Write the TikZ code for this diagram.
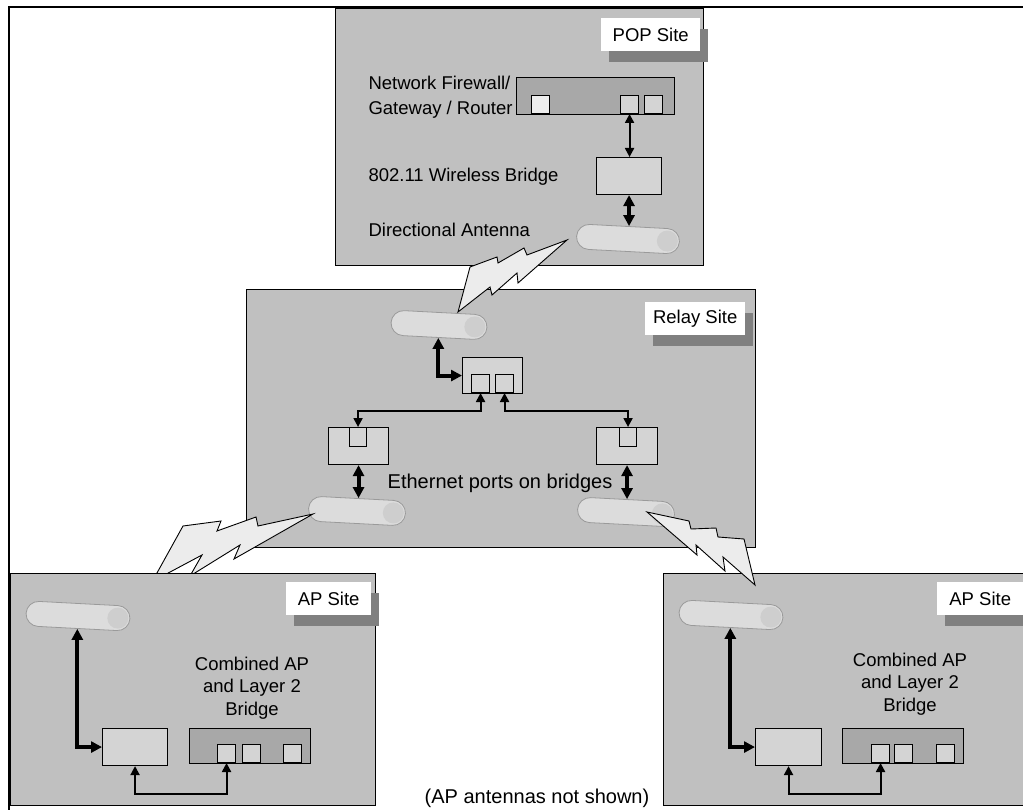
\documentclass[tikz,border=0pt]{standalone}
\usepackage{fontspec}
\setmainfont{Liberation Sans}
\usetikzlibrary{arrows.meta, positioning, shadows, calc}

\definecolor{sitegray}{HTML}{C0C0C0}
\definecolor{boxgray}{HTML}{D4D4D4}
\definecolor{fwgray}{HTML}{A8A8A8}
\definecolor{portgray}{HTML}{D4D4D4}
\definecolor{portwhite}{HTML}{EDEDED}
\definecolor{shadowgray}{HTML}{808080}
\definecolor{antfill}{HTML}{DCDCDC}
\definecolor{antcap}{HTML}{CECECE}
\definecolor{antedge}{HTML}{9A9A9A}
\definecolor{boltgray}{HTML}{ECECEC}

\tikzset{
  site/.style={draw=black, line width=1.2pt, fill=sitegray, anchor=north west, inner sep=0pt},
  tag/.style={fill=white, inner sep=0pt, minimum height=33pt, anchor=north west,
    drop shadow={shadow xshift=8pt, shadow yshift=-11pt, fill=shadowgray, opacity=1}},
  box/.style={draw=black, line width=1.1pt, fill=boxgray, inner sep=0pt, anchor=north west},
  port/.style={draw=black, line width=1.1pt, fill=portgray, inner sep=0pt, minimum size=18pt, anchor=south west},
  antenna/.style={draw=antedge, fill=antfill, line width=0.8pt, minimum height=25pt,
    rounded corners=12.5pt, inner sep=0pt, rotate=-3},
  bolt/.style={draw=black, fill=boltgray, line width=0.9pt},
  arr/.style={{Triangle[length=9pt,width=9pt]}-{Triangle[length=9pt,width=9pt]}, line width=2pt},
  bigarr/.style={{Triangle[length=11pt,width=11pt]}-{Triangle[length=11pt,width=11pt]}, line width=4pt}
}

\begin{document}
\begin{tikzpicture}[x=1pt, y=-1pt, font=\fontsize{18.5}{25}\selectfont]
  \useasboundingbox (0,0) rectangle (1023,810);
  \clip (0,0) rectangle (1023,810);
  \fill[white] (0,0) rectangle (1023,810);

  % outer frame
  \draw[line width=2.5pt] (9,815) -- (9,7) -- (1030,7);

  % POP site
  \node[site, minimum width=368pt, minimum height=257pt] (pop) at (335,8) {};
  \node[tag, minimum width=99pt] (poptag) at (601,18) {POP Site};
  \node[box, fill=fwgray, minimum width=158pt, minimum height=37pt] (fw) at (516,77) {};
  \node[port, fill=portwhite] (fwp1) at (531,114) {};
  \node[port] (fwp2) at (620,114) {};
  \node[port] (fwp3) at (644,114) {};
  \node[box, minimum width=65pt, minimum height=37pt] (popbr) at (596,157) {};
  \node[antenna, minimum width=103pt] (popant) at (628,239) {};
  \fill[antcap] ($(popant.east)!12.5pt!(popant.west)$) circle (10.5pt);
  \node[anchor=west, align=left] (fwlbl) at (365,97) {Network Firewall/\\Gateway / Router};
  \node[anchor=west] (brlbl) at (365,177) {802.11 Wireless Bridge};
  \node[anchor=west] (antlbl) at (365,230) {Directional Antenna};
  \draw[arr] (fwp2.south) -- (fwp2.south |- popbr.north);
  \draw[bigarr] (popbr.south) -- (popbr.south |- popant.north);

  % Relay site
  \node[site, minimum width=509pt, minimum height=258pt] (relay) at (246,289) {};
  \node[tag, minimum width=100pt] (relaytag) at (645,302) {Relay Site};
  \node[antenna, minimum width=96pt] (relant) at (439,325) {};
  \node[box, minimum width=60pt, minimum height=36pt] (sw) at (462,357) {};
  \node[port] (swp1) at (471,393) {};
  \node[port] (swp2) at (495,393) {};
  \node[box, minimum width=60pt, minimum height=37pt] (lb) at (328,427) {};
  \node[port, anchor=north west, minimum width=17pt, minimum height=19pt] (lbp) at (349,427) {};
  \node[box, minimum width=61pt, minimum height=37pt] (rb) at (596,427) {};
  \node[port, anchor=north west, minimum width=17pt, minimum height=19pt] (rbp) at (619,427) {};
  \node[antenna, minimum width=97pt] (lant) at (357,511) {};
  \node[antenna, minimum width=97pt] (rant) at (626,512) {};
  \foreach \a in {relant, lant, rant}
    \fill[antcap] ($(\a.east)!12.5pt!(\a.west)$) circle (10.5pt);
  \node[font=\fontsize{20}{24}\selectfont] (ethlbl) at (500,483) {Ethernet ports on bridges};
  \draw[bigarr] (relant.south) |- (sw.west);
  \draw[arr] (swp1.south) -- ++(0,18) -| (lbp.north);
  \draw[arr] (swp2.south) -- ++(0,18) -| (rbp.north);
  \draw[bigarr] (lb.south) -- (lb.south |- lant.north);
  \draw[bigarr] (rb.south) -- (rb.south |- rant.north);

  % radio links
  \draw[bolt] (567,240) -- (527,255) -- (524,248) -- (498,263) -- (497,257) -- (470,267)
    -- (458,312) -- (490,287) -- (492,295) -- (517,273) -- (518,283) -- cycle;
  \draw[bolt] (313,514) -- (258,526) -- (256,517) -- (217,531) -- (221,521) -- (183,526)
    -- (152,582) -- (157,579) -- (202,555) -- (190,576) -- (240,545) -- (234,559) -- cycle;

  % AP site, left
  \node[site, minimum width=365pt, minimum height=232pt] (apl) at (10,573) {};
  \node[tag, minimum width=85pt] (apltag) at (286,582) {AP Site};
  \node[antenna, minimum width=104pt] (aplant) at (78,616) {};
  \fill[antcap] ($(aplant.east)!12.5pt!(aplant.west)$) circle (10.5pt);
  \node[box, minimum width=65pt, minimum height=37pt] (aplbr) at (102,728) {};
  \node[box, fill=fwgray, minimum width=121pt, minimum height=35pt] (aplap) at (189,728) {};
  \node[port] (aplp1) at (217,763) {};
  \node[port] (aplp2) at (242,763) {};
  \node[port] (aplp3) at (283,763) {};
  \node[align=center, font=\fontsize{18.5}{22.5}\selectfont] (apllbl) at (252,688) {Combined AP\\and Layer 2\\Bridge};
  \draw[bigarr] (aplant.south) |- (aplbr.west);
  \draw[arr] (aplbr.south) -- ++(0,28) -| (aplp1.south);

  % AP site, right
  \node[site, minimum width=370pt, minimum height=232pt] (apr) at (663,573) {};
  \node[tag, minimum width=86pt] (aprtag) at (937,582) {AP Site};
  \node[antenna, minimum width=104pt] (aprant) at (731,615) {};
  \fill[antcap] ($(aprant.east)!12.5pt!(aprant.west)$) circle (10.5pt);
  \node[box, minimum width=66pt, minimum height=37pt] (aprbr) at (755,728) {};
  \node[box, fill=fwgray, minimum width=121pt, minimum height=35pt] (aprap) at (842,728) {};
  \node[port] (aprp1) at (871,763) {};
  \node[port] (aprp2) at (894,763) {};
  \node[port] (aprp3) at (936,763) {};
  \node[align=center, font=\fontsize{18.5}{22.5}\selectfont] (aprlbl) at (910,684) {Combined AP\\and Layer 2\\Bridge};
  \draw[bigarr] (aprant.south) |- (aprbr.west);
  \draw[arr] (aprbr.south) -- ++(0,28) -| (aprp1.south);

  \draw[bolt] (647,512) -- (689,521) -- (691,529) -- (716,528) -- (718,537) -- (744,539)
    -- (755,585) -- (723,557) -- (725,571) -- (696,545) -- (697,555) -- cycle;

  \node[font=\fontsize{20}{24}\selectfont] (note) at (537,798) {(AP antennas not shown)};
\end{tikzpicture}
\end{document}
